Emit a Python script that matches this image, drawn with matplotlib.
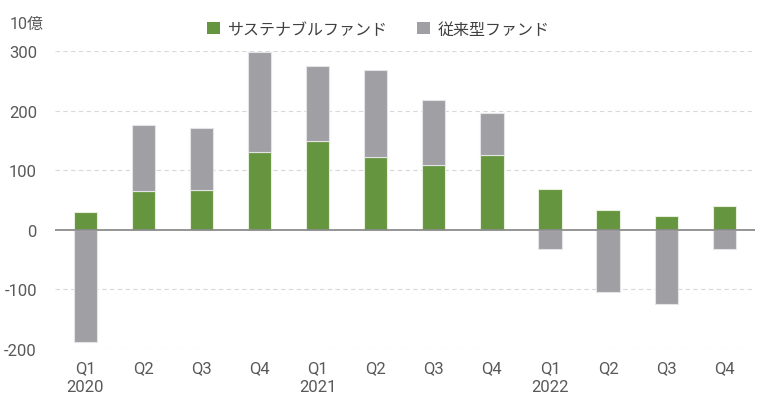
import numpy as np
import matplotlib
matplotlib.use("Agg")
from matplotlib import pyplot as plt
from matplotlib.patches import Patch

plt.rcParams['font.family'] = ['Roboto', 'Noto Sans CJK JP', 'DejaVu Sans']

quarters = ["Q1\n2020", "Q2", "Q3", "Q4", "Q1\n2021", "Q2", "Q3", "Q4",
            "Q1\n2022", "Q2", "Q3", "Q4"]
sustainable = [30, 65, 67, 131, 149, 122, 109, 126, 68, 34, 23, 40]
conventional = [-189, 111, 104, 167, 126, 146, 109, 70, -33, -104, -124, -33]

green = "#66953f"
gray = "#a0a0a4"
text_col = "#595959"

fig = plt.figure(figsize=(7.57, 4.02), dpi=100)
ax = fig.add_axes([0.0727, 0.1294, 0.924, 0.7412])

x = np.arange(len(quarters))
sus = np.array(sustainable)
conv = np.array(conventional)
# gray stacks on top of green when positive, hangs below zero when negative
conv_bottom = np.where(conv > 0, sus, 0)

ax.bar(x, sus, width=0.4, color=green, edgecolor="#e6efdc", linewidth=0.8, zorder=3)
ax.bar(x, conv, bottom=conv_bottom, width=0.4, color=gray, edgecolor="#e4e4e6",
       linewidth=0.8, zorder=3)

ax.axhline(0, color="#8c8c8c", linewidth=1.3, zorder=4)

ax.set_ylim(-200, 300)
ax.set_xlim(-0.52, len(quarters) - 0.48)
ax.set_yticks([-200, -100, 0, 100, 200, 300])
ax.set_yticklabels(["-200", "-100", "0", "100", "200", "300"])
ax.set_xticks(x)
ax.set_xticklabels(quarters, linespacing=1.3)
ax.tick_params(axis="both", length=0, labelsize=12, colors=text_col)
ax.tick_params(axis="y", pad=13)
ax.tick_params(axis="x", pad=8)

for v in [-200, -100, 100, 200, 300]:
    ax.axhline(v, color="#d9d9d9", linewidth=0.8, linestyle=(0, (4, 3)), zorder=1)

for s in ax.spines.values():
    s.set_visible(False)

fig.text(0.013, 0.94, "10億", fontsize=11.5, color=text_col, va="center")

handles = [Patch(facecolor=green, edgecolor="none"), Patch(facecolor=gray, edgecolor="none")]
fig.legend(handles, ["サステナブルファンド", "従来型ファンド"], loc="center",
           bbox_to_anchor=(0.5, 0.925), ncol=2, frameon=False, fontsize=11.5,
           labelcolor="#404040", handlelength=0.8, handleheight=0.8,
           handletextpad=0.5, columnspacing=1.8)

fig.savefig("out.png", dpi=100)
